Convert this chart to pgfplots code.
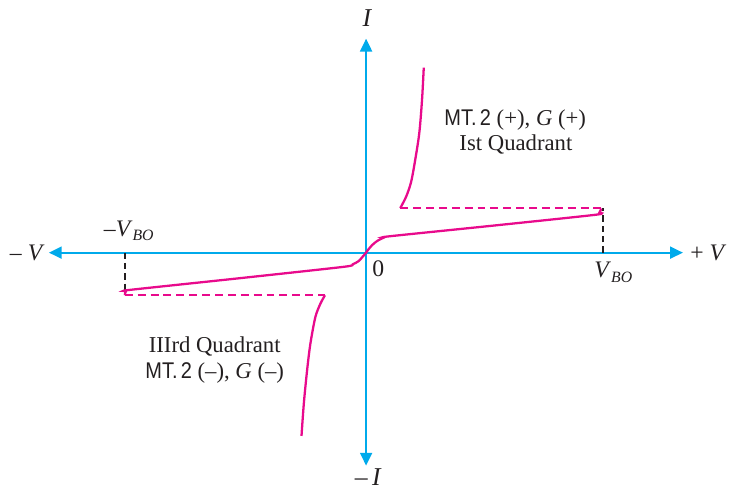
\documentclass[border=0pt]{standalone}
\usepackage{fontspec}
\setmainfont{Liberation Serif}
\newfontfamily\sansMT{Liberation Sans}
\usepackage{pgfplots}
\pgfplotsset{compat=1.18}
\usetikzlibrary{arrows.meta}
\definecolor{axcyan}{RGB}{0,170,235}
\definecolor{mag}{RGB}{232,10,140}
\definecolor{txt}{RGB}{35,31,32}
\newcommand{\sub}[1]{\raisebox{-0.45ex}{\footnotesize\textit{#1}}}
\newcommand{\MT}{\scalebox{0.88}[1]{\sansMT MT.\,2}}
\newcommand{\qf}{\fontsize{11.5}{13}\selectfont}
\begin{document}
\begin{tikzpicture}
\begin{axis}[
  scale only axis, width=366.5bp, height=245.5bp,
  xmin=0, xmax=733, ymin=0, ymax=491,
  axis lines=none, clip=false,
]
\addplot[draw=none] coordinates {(0,0) (733,491)};
% axes
\addplot[axcyan, line width=1.1bp, {Triangle[length=6.5bp,width=6bp]}-{Triangle[length=6.5bp,width=6bp]}] coordinates {(49.3,236) (689.3,236)};
\addplot[axcyan, line width=1.1bp, {Triangle[length=6.5bp,width=6bp]}-{Triangle[length=6.5bp,width=6bp]}] coordinates {(369.5,21) (369.5,452)};
% dashed black
\addplot[txt, line width=1.1bp, dash pattern=on 3.2bp off 2bp] coordinates {(609,236) (609,281)};
\addplot[txt, line width=1.1bp, dash pattern=on 3.2bp off 2bp] coordinates {(126,236) (126,193)};
% dashed magenta
\addplot[mag, line width=1.1bp, dash pattern=on 4bp off 2.5bp] coordinates {(404,281) (609,281)};
\addplot[mag, line width=1.1bp, dash pattern=on 4bp off 2.5bp] coordinates {(126,193) (328,193)};
% main characteristic
\addplot[mag, line width=1.15bp, smooth, tension=0.4] coordinates {
 (126,193) (127,197) (131,198.4) (240,210) (347,221.7) (356,224.2) (362,227.5)
 (366.7,232.7) (369.5,236) (372,239.5) (376,244) (381,248) (387,251)
 (393,252.5) (500,263.5) (601.7,274.3) (605,276.5) (607,280.5)};
% on-state QI
\addplot[mag, line width=1.15bp, smooth, tension=0.5] coordinates {
 (404,281) (410,292.7) (415,307.7) (419.3,331) (423.3,357.7) (426,391) (427.7,422.7)};
% on-state QIII
\addplot[mag, line width=1.15bp, smooth, tension=0.5] coordinates {
 (328,193) (323.3,184.3) (318.3,171) (313.3,144.3) (310,117.7) (306.7,84.3) (304.3,51)};
% labels
\node[text=txt] at (axis cs:370.7,472.7) {\fontsize{13}{15}\selectfont\textit{I}};
\node[text=txt] at (axis cs:371.7,9.3) {\fontsize{13}{15}\selectfont\textendash\,\textit{I}};
\node[text=txt] at (axis cs:27.5,236) {\fontsize{12}{14}\selectfont\textendash\ \textit{V}};
\node[text=txt] at (axis cs:715,236) {\fontsize{12}{14}\selectfont+ \textit{V}};
\node[text=txt, anchor=base] at (axis cs:130,252.7) {\fontsize{12}{14}\selectfont\textendash\textit{V}\sub{BO}};
\node[text=txt, anchor=base] at (axis cs:619,211) {\fontsize{12}{14}\selectfont\textit{V}\sub{BO}};
\node[text=txt] at (axis cs:381.7,219.3) {\fontsize{12}{14}\selectfont 0};
\node[text=txt, anchor=base] at (axis cs:520,364.3) {\qf\MT{} (+), \textit{G} (+)};
\node[text=txt, anchor=base] at (axis cs:520.7,339.3) {\qf Ist Quadrant};
\node[text=txt, anchor=base] at (axis cs:216.7,135) {\qf IIIrd Quadrant};
\node[text=txt, anchor=base] at (axis cs:216.7,109.3) {\qf\MT{} (\textendash), \textit{G} (\textendash)};
\end{axis}
\end{tikzpicture}
\end{document}
